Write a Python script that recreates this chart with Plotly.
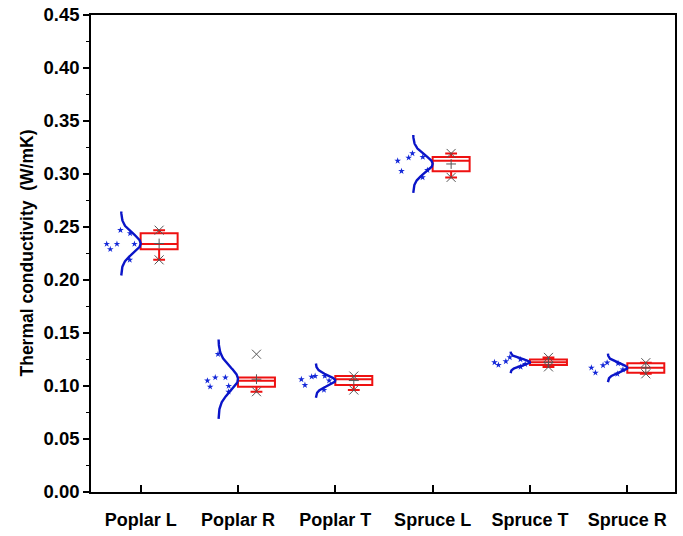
import numpy as np
import plotly.graph_objects as go

categories = ["Poplar L", "Poplar R", "Poplar T", "Spruce L", "Spruce T", "Spruce R"]
poplar_L = [0.247, 0.244, 0.229, 0.234, 0.234, 0.234, 0.219]
poplar_R = [0.130, 0.108, 0.105, 0.108, 0.100, 0.0946, 0.0993]
poplar_T = [0.1094, 0.1009, 0.1094, 0.1087, 0.0962, 0.1063, 0.105]
spruce_L = [0.2968, 0.3027, 0.3036, 0.3124, 0.3153, 0.316, 0.3194]
spruce_T = [0.118, 0.1198, 0.1207, 0.1223, 0.1232, 0.1251, 0.127]
spruce_R = [0.1115, 0.1125, 0.1155, 0.1172, 0.1195, 0.1214, 0.122]
series = [poplar_L, poplar_R, poplar_T, spruce_L, spruce_T, spruce_R]
y_ticks = [0.00, 0.05, 0.10, 0.15, 0.20, 0.25, 0.30, 0.35, 0.40, 0.45]

FONT = "Liberation Sans, Arial, sans-serif"
BLUE = "#1428d8"
CURVE = "#0a14c8"
GRAY = "#555555"


def stats(vals):
    s = np.sort(np.array(vals, dtype=float))
    n = len(s)
    med = float(np.median(s))
    q1 = float(np.median(s[: n // 2]))
    q3 = float(np.median(s[(n + 1) // 2:]))
    iqr = q3 - q1
    lf = float(s[s >= q1 - 1.5 * iqr].min())
    uf = float(s[s <= q3 + 1.5 * iqr].max())
    return q1, med, q3, lf, uf, float(s.mean()), float(s.std(ddof=1)), float(s.min()), float(s.max())


fig = go.Figure()
for i, (name, vals) in enumerate(zip(categories, series)):
    pos = i + 1
    q1, med, q3, lf, uf, mean, sd, vmin, vmax = stats(vals)

    # scattered data points (library jitter)
    fig.add_trace(go.Box(
        y=vals, x0=pos - 0.2, width=0.4, boxpoints="all", jitter=1, pointpos=0,
        line=dict(color="rgba(0,0,0,0)", width=0), fillcolor="rgba(0,0,0,0)",
        marker=dict(symbol="star", size=5, color=BLUE),
        showlegend=False, hoverinfo="y",
    ))

    # normal distribution curve
    yy = np.linspace(mean - 3.25 * sd, mean + 3.25 * sd, 120)
    xx = pos - 0.2 + 0.2 * np.exp(-0.5 * ((yy - mean) / sd) ** 2)
    fig.add_trace(go.Scatter(x=xx, y=yy, mode="lines",
                             line=dict(color=CURVE, width=2.4),
                             showlegend=False, hoverinfo="skip"))

    # box
    fig.add_trace(go.Box(
        x=[pos + 0.19], q1=[q1], median=[med], q3=[q3],
        lowerfence=[lf], upperfence=[uf], width=0.38, whiskerwidth=0.32,
        boxpoints=False, line=dict(color="#ee1111", width=2),
        fillcolor="rgba(0,0,0,0)", showlegend=False,
    ))

    # min / max crosses and mean plus
    fig.add_trace(go.Scatter(
        x=[pos + 0.19, pos + 0.19], y=[vmin, vmax], mode="markers",
        marker=dict(symbol="x-thin", size=9, color=GRAY, line=dict(color=GRAY, width=1)),
        showlegend=False, hoverinfo="y",
    ))
    fig.add_trace(go.Scatter(
        x=[pos + 0.19], y=[mean], mode="markers",
        marker=dict(symbol="cross-thin", size=7, color=GRAY, line=dict(color=GRAY, width=1)),
        showlegend=False, hoverinfo="y",
    ))

fig.update_layout(
    width=683, height=536,
    margin=dict(l=91, r=8, t=15, b=44),
    plot_bgcolor="white", paper_bgcolor="white",
    font=dict(family=FONT, size=18, color="black"),
    boxmode="overlay",
    annotations=[dict(
        text="<b>Thermal conductivity  (W/mK)</b>", textangle=-90,
        xref="paper", yref="paper", x=(26 - 91) / 584, y=0.5,
        xanchor="center", yanchor="middle", showarrow=False,
        font=dict(size=17.5, family=FONT, color="black"),
    )],
)
fig.update_xaxes(
    range=[0.49, 6.49], tickmode="array", tickvals=list(range(1, 7)),
    ticktext=["<b>%s</b>" % c for c in categories],
    ticks="inside", ticklen=7, tickwidth=1.5, tickcolor="black",
    showline=True, linecolor="black", linewidth=1.5, mirror=True,
    showgrid=False, zeroline=False, tickfont=dict(size=18), automargin=False,
    ticklabelstandoff=11,
)
fig.update_yaxes(
    range=[0, 0.45], tickmode="array", tickvals=y_ticks,
    ticktext=["<b>%.2f</b>" % t for t in y_ticks],
    ticks="outside", ticklen=6, tickwidth=1.5, tickcolor="black",
    minor=dict(ticks="outside", ticklen=3, tickwidth=1.2, tickcolor="black", dtick=0.025, showgrid=False),
    showline=True, linecolor="black", linewidth=1.5, mirror=True,
    showgrid=False, zeroline=False, tickfont=dict(size=18.5), automargin=False,
    ticklabeloverflow="allow",
)

fig.write_html("out.html", config={"displayModeBar": False},
               post_script="document.body.style.margin='0';")
